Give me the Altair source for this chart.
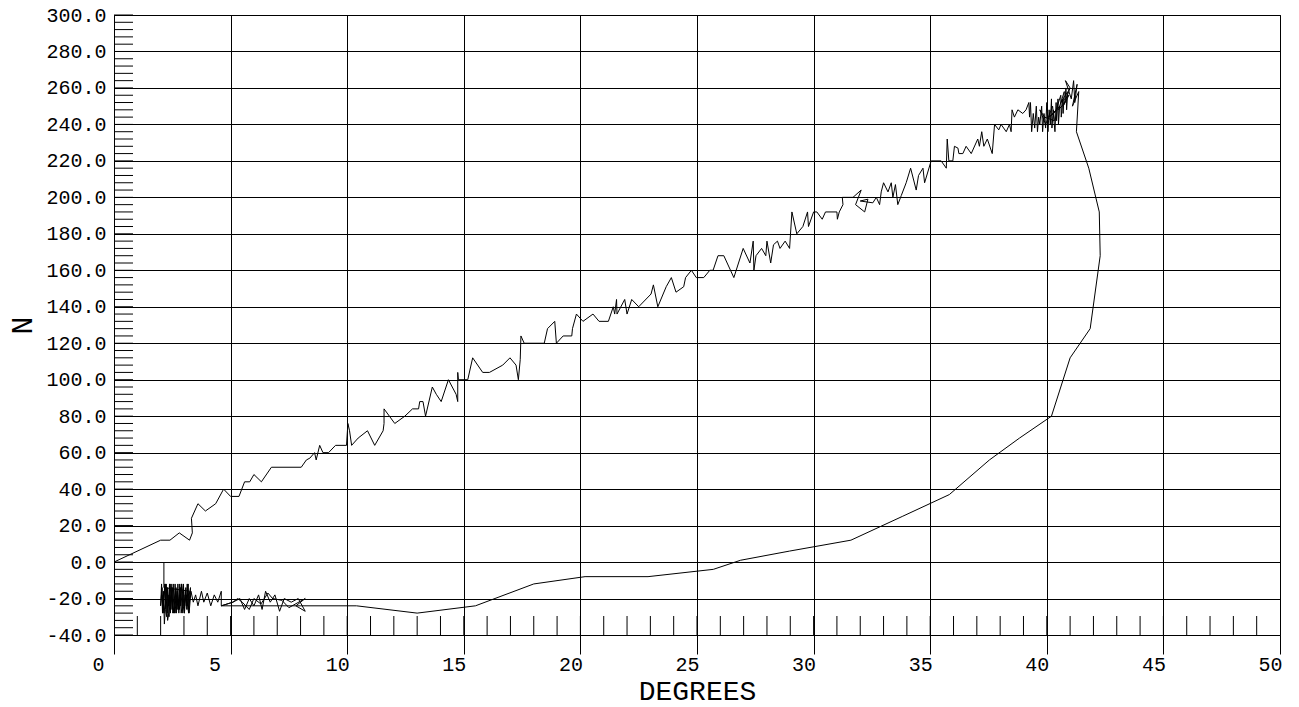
import altair as alt
import pandas as pd

# ---------------- data ----------------
# ascending branch, 0..12.5 degrees
asc1_deg = [0, 2.0, 2.4, 2.8, 3.24, 3.36, 3.32, 3.6, 3.92, 4.36, 4.7, 5.0, 5.36, 5.6, 5.82,
            6.0, 6.32, 6.75, 8.03, 8.25, 8.4, 8.6, 8.67, 8.82, 8.96, 9.2, 9.5, 9.97, 10.03,
            10.1, 10.19, 10.47, 10.87, 11.18, 11.54, 11.58, 11.58, 12.04, 12.47]
asc1_n = [0, 12, 12, 16, 12, 16, 24, 32, 28, 32, 40, 36, 36, 44, 44,
          48, 44, 52, 52, 56, 57, 60, 56, 64, 60, 60, 64, 64, 76,
          72, 64, 68, 72, 64, 72, 76, 84, 76, 80]

# ascending branch, 12.5..22.5 degrees
asc2_deg = [12.8, 13.06, 13.11, 13.25, 13.36, 13.65, 13.82, 14.03, 14.34, 14.67, 14.74, 14.74,
            14.77, 15.17, 15.38, 15.81, 16.1, 16.67, 16.98, 17.24, 17.34, 17.42, 17.45, 17.59,
            18.45, 18.59, 18.9, 18.97, 19.26, 19.63, 19.66, 19.83, 20.11, 20.54, 20.8, 21.2,
            21.41, 21.47, 21.55, 21.57, 21.9, 22.0, 22.2, 22.5]
asc2_n = [84, 84, 88, 88, 80, 96, 92, 88, 100, 92, 88, 104,
          100, 100, 112, 104, 104, 108, 112, 108, 100, 111, 124, 120,
          120, 128, 132, 120, 124, 124, 128, 136, 132, 136, 132, 132,
          140, 136, 144, 136, 144, 136, 144, 140]

# ascending branch, 22.5..30 degrees
asc3_deg = [23.03, 23.13, 23.32, 23.68, 23.9, 24.1, 24.43, 24.51, 24.76, 24.97, 25.29, 25.55,
            25.69, 25.9, 26.15, 26.58, 26.98, 27.27, 27.41, 27.44, 27.53, 27.77, 27.95, 28.0,
            28.16, 28.28, 28.45, 28.56, 28.78, 28.97, 29.07, 29.28, 29.54, 29.74, 29.78, 30.0]
asc3_n = [147, 152, 140, 151, 156, 148, 151, 156, 160, 156, 156, 160,
          160, 168, 168, 156, 172, 164, 176, 160, 168, 172, 168, 176,
          164, 174, 176, 172, 176, 172, 192, 180, 184, 192, 184, 192]

# ascending branch, 30..39.4 degrees
asc4_deg = [30.14, 30.37, 30.51, 31.0, 31.02, 31.1, 31.26, 31.23, 31.69, 32.04, 31.8, 32.19,
            32.33, 32.0, 32.54, 32.69, 32.83, 32.9, 33.0, 33.19, 33.33, 33.4, 33.51, 33.61,
            33.76, 33.97, 34.16, 34.4, 34.5, 34.69, 34.76, 35.04, 35.47, 35.69, 35.73, 35.8,
            35.97, 36.04, 36.19, 36.23, 36.4, 36.54, 36.76, 37.04, 37.11, 37.21, 37.3, 37.45,
            37.66, 37.76, 37.94, 38.04, 38.26, 38.4, 38.47, 38.51, 38.61, 38.76, 38.97, 39.11,
            39.23, 39.26]
asc4_n = [192, 188, 192, 192, 188, 192, 196, 200, 200, 204, 196, 192,
          199, 198, 197, 200, 196, 203, 208, 203, 208, 200, 207, 196,
          201, 208, 216, 204, 212, 216, 208, 220, 220, 216, 232, 220,
          220, 228, 227, 224, 224, 228, 224, 232, 228, 236, 228, 232,
          224, 240, 237, 240, 236, 240, 236, 248, 244, 248, 246, 248,
          252, 244]

# dense cluster at the top, 39.3..41.4 degrees
top_deg = [39.30, 39.35, 39.42, 39.48, 39.55, 39.60, 39.65, 39.70, 39.78, 39.82,
           39.88, 39.95, 40.00, 40.05, 40.10, 40.15, 40.20, 40.22, 40.28, 40.33,
           39.90, 39.70, 39.95, 40.25, 40.35, 40.40, 40.42, 40.48, 40.50, 40.55,
           40.30, 40.10, 40.40, 40.60, 40.62, 40.68, 40.70, 40.75, 40.50, 40.78,
           40.82, 40.85, 40.90, 40.60, 40.95, 40.70, 41.00, 40.80, 41.05, 41.15,
           41.20, 41.30, 41.10, 41.37]
top_n = [252, 236, 246, 238, 250, 236, 244, 240, 250, 236,
         246, 238, 252, 236, 248, 240, 254, 238, 248, 242,
         244, 248, 240, 250, 236, 252, 242, 254, 240, 250,
         246, 244, 248, 256, 244, 254, 246, 258, 248, 252,
         260, 248, 258, 252, 256, 250, 260, 264, 254, 264,
         252, 262, 250, 258]

# unloading branch
ret_deg = [41.27, 41.8, 42.25, 42.29, 41.86, 41.0, 40.2, 38.83, 37.54, 35.82, 33.8, 31.6,
           28.96, 26.87, 25.7, 22.9, 20.2, 18.0, 15.5, 13.0, 10.4, 8.0, 4.6]
ret_n = [236, 216, 192, 168, 128, 112, 80, 68, 56, 37, 25, 12,
         6, 1, -4, -8, -8, -12, -24, -28, -24, -24, -24]

# scatter near -20, 5..8.2 degrees
low1_deg = [5.1, 5.4, 5.6, 5.8, 6.0, 6.2, 6.35, 6.5, 6.7, 6.9, 7.1, 7.3, 7.6, 7.9, 8.2,
            7.8, 8.2, 7.5, 7.2, 6.8, 6.6, 6.3, 6.0, 5.8, 5.5, 5.3, 5.1]
low1_n = [-22, -20, -26, -20, -24, -18, -26, -16, -22, -18, -27, -20, -22, -20, -27,
          -24, -20, -25, -21, -20, -17, -23, -20, -26, -22, -20, -22]

# scatter near -20, 3.3..4.6 degrees
low2_deg = [4.6, 4.6, 4.45, 4.3, 4.15, 4.0, 3.85, 3.75, 3.6, 3.5, 3.4, 3.3]
low2_n = [-24, -16, -22, -18, -24, -17, -22, -16, -24, -18, -22, -16]

# dense scatter, 2.0..3.3 degrees
low3_deg = [3.30, 3.22, 3.18, 3.12, 3.08, 3.02, 2.98, 2.92, 2.88, 2.82,
            2.78, 2.72, 2.68, 2.62, 2.58, 2.52, 2.48, 2.44, 2.40, 2.36,
            2.32, 2.28, 2.24, 2.20, 2.16, 2.12, 2.08, 2.04, 2.00, 2.06,
            2.10, 2.14, 2.18, 2.22, 2.26, 2.30, 2.34, 2.38, 2.42, 2.46,
            2.50, 2.54, 2.58, 2.62, 2.66, 2.70, 2.74, 2.78, 2.82, 2.86,
            2.90, 2.94, 2.98, 3.02, 3.06, 3.10, 3.14, 3.18, 3.24, 3.28,
            3.20, 3.10, 3.00, 2.90, 2.80, 2.70, 2.60, 2.50, 2.40, 2.30,
            2.20, 2.10, 2.05, 2.15, 2.25, 2.35, 2.45, 2.55, 2.65, 2.75,
            2.85, 2.95, 3.05, 3.15, 3.25, 2.14, 2.14]
low3_n = [-16, -28, -12, -26, -14, -28, -12, -24, -28, -12,
          -26, -16, -28, -12, -24, -28, -14, -26, -12, -30,
          -18, -28, -12, -26, -34, -16, -28, -12, -24, -14,
          -28, -20, -12, -26, -30, -14, -24, -12, -28, -18,
          -26, -12, -24, -28, -14, -26, -12, -28, -18, -24,
          -12, -26, -14, -28, -16, -24, -12, -26, -20, -14,
          -28, -18, -24, -12, -26, -20, -28, -14, -24, -32,
          -12, -26, -18, -28, -14, -24, -12, -28, -16, -26,
          -14, -28, -18, -24, -16, -14, 0]

x_major = [0, 5, 10, 15, 20, 25, 30, 35, 40, 45, 50]
y_major = [-40, -20, 0, 20, 40, 60, 80, 100, 120, 140, 160, 180, 200, 220, 240, 260, 280, 300]
x_minor = list(range(1, 50))
y_minor = list(range(-40, 301, 4))

# ---------------- build table ----------------
segs = [(asc1_deg, asc1_n), (asc2_deg, asc2_n), (asc3_deg, asc3_n), (asc4_deg, asc4_n),
        (top_deg, top_n), (ret_deg, ret_n), (low1_deg, low1_n), (low2_deg, low2_n),
        (low3_deg, low3_n)]
all_deg, all_n = [], []
for d, n in segs:
    assert len(d) == len(n)
    all_deg += d
    all_n += n
df = pd.DataFrame({"i": range(len(all_deg)), "deg": all_deg, "n": all_n})

FONT = "Liberation Mono"
xscale = alt.Scale(domain=[0, 50], nice=False, zero=False)
yscale = alt.Scale(domain=[-40, 300], nice=False, zero=False)

xaxis = alt.Axis(values=x_major, grid=True, gridColor="#000", gridWidth=1, domain=False,
                 ticks=True, tickSize=19, tickColor="#000", tickWidth=1,
                 labelFont=FONT, labelFontSize=20, labelColor="#000", labelAlign="left",
                 labelOffset=-22, labelBaseline="top", labelPadding=0, labelFlush=False,
                 labelOverlap=False, labelBound=False, format="d",
                 title="DEGREES", titleFont=FONT, titleFontSize=28, titleFontWeight="normal",
                 titleColor="#000", titleY=64, titleBaseline="alphabetic")
yaxis = alt.Axis(values=y_major, grid=True, gridColor="#000", gridWidth=1, domain=False,
                 ticks=False, labelFont=FONT, labelFontSize=20, labelColor="#000",
                 labelPadding=8, labelFlush=False, labelOverlap=False, labelBound=False,
                 labelBaseline="middle",
                 labelExpr="(datum.value < 0 ? '-' : '') + format(abs(datum.value), '.1f')",
                 title="N", titleFont=FONT, titleFontSize=30, titleFontWeight="normal",
                 titleColor="#000", titleX=-92, titleY=310, titleAngle=270,
                 titleAlign="center", titleBaseline="middle")

line = alt.Chart(df).mark_line(color="#000", strokeWidth=1, clip=True).encode(
    x=alt.X("deg:Q", scale=xscale, axis=xaxis),
    y=alt.Y("n:Q", scale=yscale, axis=yaxis),
    order=alt.Order("i:Q"),
)

ytick = alt.Chart(pd.DataFrame({"n": y_minor})).mark_rule(color="#000", strokeWidth=1).encode(
    y=alt.Y("n:Q", scale=yscale, axis=yaxis),
    x=alt.value(0), x2=alt.value(19),
)

xtick = alt.Chart(pd.DataFrame({"deg": x_minor})).mark_rule(color="#000", strokeWidth=1).encode(
    x=alt.X("deg:Q", scale=xscale, axis=xaxis),
    y=alt.value(601), y2=alt.value(620),
)

chart = alt.layer(ytick, xtick, line).properties(
    width=1166, height=620,
    autosize=alt.AutoSizeParams(type="none"),
    padding={"left": 106, "top": 7, "right": 5, "bottom": 72},
    background="#ffffff",
).configure_view(stroke="#000", strokeWidth=1)

chart.save("out.html", embed_options={"renderer": "svg", "actions": False})
